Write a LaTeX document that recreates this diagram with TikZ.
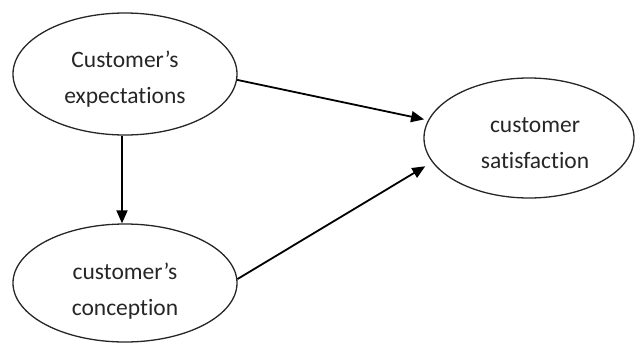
\documentclass[tikz,border=0pt]{standalone}
\usepackage{fontspec}
\setmainfont{Carlito}[Ligatures=NoCommon]
\usetikzlibrary{shapes.geometric,arrows.meta}
\begin{document}
\begin{tikzpicture}[x=1pt,y=-1pt,
  oval/.style={draw=black!85,line width=1.3pt,ellipse,inner sep=0pt},
  lbl/.style={align=center,inner sep=0pt,font=\fontsize{23.5}{36}\selectfont,text=black!85},
  conn/.style={draw=black,line width=1.8pt,-{Triangle[length=13pt,width=11pt]}}]
\useasboundingbox (0,0) rectangle (636,343);
\node[oval,minimum width=224pt,minimum height=122pt] (exp) at (125,74) {};
\node[oval,minimum width=224pt,minimum height=118pt] (con) at (125,283) {};
\node[oval,minimum width=210pt,minimum height=120pt] (sat) at (529,138) {};
\node[lbl] (expt) at ([yshift=-5pt]exp.center) {Customer's\\expectations};
\node[lbl] (cont) at ([yshift=-8pt]con.center) {customer's\\conception};
\node[lbl] (satt) at ([xshift=6pt,yshift=-5pt]sat.center) {customer\\satisfaction};
\draw[conn,shorten >=4pt] (exp.-3) -- (sat.170.5);
\draw[conn,shorten >=8pt] (con.2) -- (sat.194.3);
\draw[conn] ([xshift=-3pt]exp.south) -- ([xshift=-3pt]con.north);
\end{tikzpicture}
\end{document}
